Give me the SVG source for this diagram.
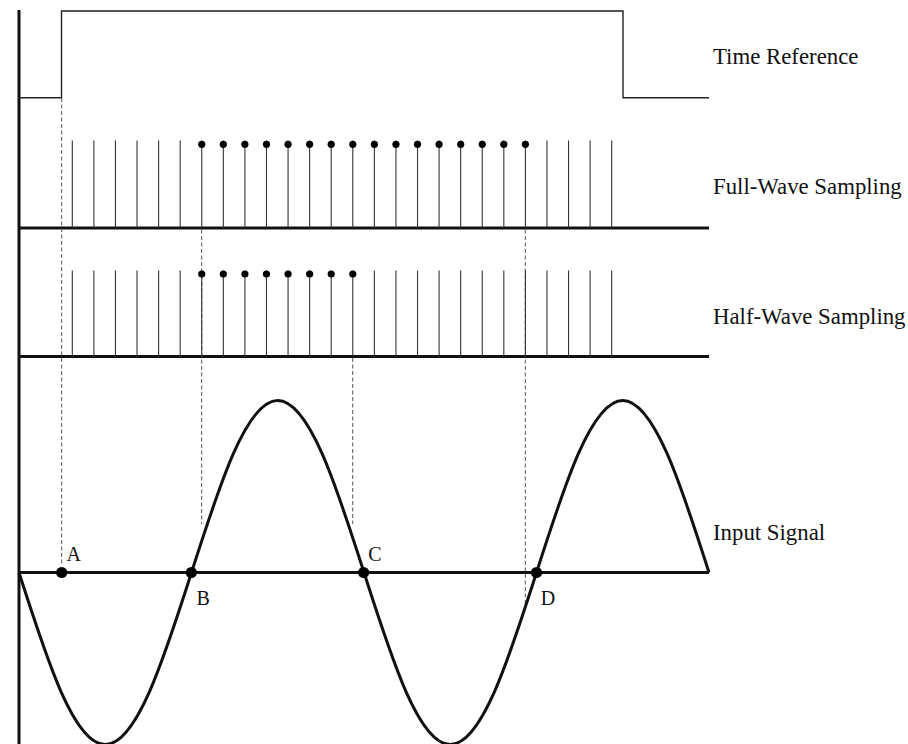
<svg xmlns="http://www.w3.org/2000/svg" width="908" height="744" viewBox="0 0 908 744">
<style>
.lbl{font-family:"Liberation Serif","Times New Roman",serif;font-size:22.8px;fill:#111}
.pt{font-family:"Liberation Serif","Times New Roman",serif;font-size:20px;fill:#111}
.thick{stroke:#111;stroke-width:3;fill:none}
.thin{stroke:#222;stroke-width:1.4;fill:none}
.stem{stroke:#333;stroke-width:1.1}
.dash{stroke:#555;stroke-width:1;stroke-dasharray:4 2.5;fill:none}
.dot{fill:#000}
</style>
<defs>
<line id="stemF" class="stem" x1="0" y1="140.5" x2="0" y2="228"/>
<line id="stemH" class="stem" x1="0" y1="270.5" x2="0" y2="356.5"/>
</defs>
<g id="axes">
<line class="thick" x1="19" y1="10" x2="19" y2="744"/>
<line class="thick" x1="19" y1="228" x2="709" y2="228"/>
<line class="thick" x1="19" y1="356.5" x2="709" y2="356.5"/>
<line class="thick" x1="19" y1="572.5" x2="709" y2="572.5"/>
</g>
<g id="time-reference">
<polyline class="thin" points="19,97.7 61.5,97.7 61.5,11 623,11 623,97.7 709,97.7"/>
<text class="lbl" x="713" y="64">Time Reference</text>
</g>
<g id="connectors">
<line class="dash" x1="61.7" y1="98" x2="61.7" y2="566"/>
<line class="dash" x1="201.7" y1="229.5" x2="201.7" y2="524"/>
<line class="dash" x1="352.7" y1="358" x2="352.7" y2="524"/>
<line class="dash" x1="525.3" y1="229.5" x2="525.3" y2="606"/>
</g>
<g id="full-wave-sampling">
<use href="#stemF" x="72.3"/><use href="#stemF" x="93.88"/><use href="#stemF" x="115.45"/><use href="#stemF" x="137.03"/><use href="#stemF" x="158.6"/><use href="#stemF" x="180.18"/>
<use href="#stemF" x="201.76"/><use href="#stemF" x="223.33"/><use href="#stemF" x="244.91"/><use href="#stemF" x="266.48"/><use href="#stemF" x="288.06"/><use href="#stemF" x="309.64"/><use href="#stemF" x="331.21"/><use href="#stemF" x="352.79"/><use href="#stemF" x="374.36"/><use href="#stemF" x="395.94"/><use href="#stemF" x="417.52"/><use href="#stemF" x="439.09"/><use href="#stemF" x="460.67"/><use href="#stemF" x="482.24"/><use href="#stemF" x="503.82"/><use href="#stemF" x="525.4"/>
<use href="#stemF" x="546.97"/><use href="#stemF" x="568.55"/><use href="#stemF" x="590.12"/><use href="#stemF" x="611.7"/>
<circle class="dot" cx="201.76" cy="144.3" r="3.6"/><circle class="dot" cx="223.33" cy="144.3" r="3.6"/><circle class="dot" cx="244.91" cy="144.3" r="3.6"/><circle class="dot" cx="266.48" cy="144.3" r="3.6"/><circle class="dot" cx="288.06" cy="144.3" r="3.6"/><circle class="dot" cx="309.64" cy="144.3" r="3.6"/><circle class="dot" cx="331.21" cy="144.3" r="3.6"/><circle class="dot" cx="352.79" cy="144.3" r="3.6"/><circle class="dot" cx="374.36" cy="144.3" r="3.6"/><circle class="dot" cx="395.94" cy="144.3" r="3.6"/><circle class="dot" cx="417.52" cy="144.3" r="3.6"/><circle class="dot" cx="439.09" cy="144.3" r="3.6"/><circle class="dot" cx="460.67" cy="144.3" r="3.6"/><circle class="dot" cx="482.24" cy="144.3" r="3.6"/><circle class="dot" cx="503.82" cy="144.3" r="3.6"/><circle class="dot" cx="525.4" cy="144.3" r="3.6"/>
<text class="lbl" x="713" y="194">Full-Wave Sampling</text>
</g>
<g id="half-wave-sampling">
<use href="#stemH" x="72.3"/><use href="#stemH" x="93.88"/><use href="#stemH" x="115.45"/><use href="#stemH" x="137.03"/><use href="#stemH" x="158.6"/><use href="#stemH" x="180.18"/>
<use href="#stemH" x="201.76"/><use href="#stemH" x="223.33"/><use href="#stemH" x="244.91"/><use href="#stemH" x="266.48"/><use href="#stemH" x="288.06"/><use href="#stemH" x="309.64"/><use href="#stemH" x="331.21"/><use href="#stemH" x="352.79"/><use href="#stemH" x="374.36"/><use href="#stemH" x="395.94"/><use href="#stemH" x="417.52"/><use href="#stemH" x="439.09"/><use href="#stemH" x="460.67"/><use href="#stemH" x="482.24"/><use href="#stemH" x="503.82"/><use href="#stemH" x="525.4"/>
<use href="#stemH" x="546.97"/><use href="#stemH" x="568.55"/><use href="#stemH" x="590.12"/><use href="#stemH" x="611.7"/>
<circle class="dot" cx="201.76" cy="274" r="3.6"/><circle class="dot" cx="223.33" cy="274" r="3.6"/><circle class="dot" cx="244.91" cy="274" r="3.6"/><circle class="dot" cx="266.48" cy="274" r="3.6"/><circle class="dot" cx="288.06" cy="274" r="3.6"/><circle class="dot" cx="309.64" cy="274" r="3.6"/><circle class="dot" cx="331.21" cy="274" r="3.6"/><circle class="dot" cx="352.79" cy="274" r="3.6"/>
<text class="lbl" x="713" y="324">Half-Wave Sampling</text>
</g>
<g id="input-signal">
<path class="thick" d="M19,572.5 C47.128,660.613 74.034,744.5 105.25,744.5 C136.466,744.5 163.372,660.613 191.5,572.5 C219.628,484.387 246.534,400.5 277.75,400.5 C308.966,400.5 335.872,484.387 364,572.5 C392.128,660.613 419.034,744.5 450.25,744.5 C481.466,744.5 508.372,660.613 536.5,572.5 C564.628,484.387 591.534,400.5 622.75,400.5 C653.966,400.5 680.872,484.387 709,572.5"/>
<text class="lbl" x="713" y="540">Input Signal</text>
</g>
<g id="point-A"><circle class="dot" cx="61.7" cy="572.5" r="5.6"/><text class="pt" x="66.5" y="561">A</text></g>
<g id="point-B"><circle class="dot" cx="191.3" cy="572.5" r="5.6"/><text class="pt" x="196.5" y="604.5">B</text></g>
<g id="point-C"><circle class="dot" cx="363.6" cy="572.5" r="5.6"/><text class="pt" x="368.3" y="561">C</text></g>
<g id="point-D"><circle class="dot" cx="536.5" cy="572.5" r="5.6"/><text class="pt" x="540.7" y="604.5">D</text></g>
</svg>
